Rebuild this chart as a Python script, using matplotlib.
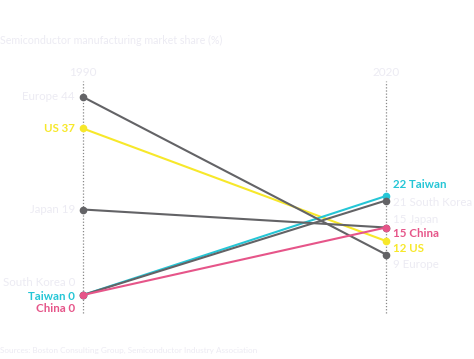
import matplotlib
matplotlib.use("Agg")
import matplotlib.pyplot as plt

years = [1990, 2020]
countries = ["Europe", "US", "Japan", "South Korea", "Taiwan", "China"]
share_1990 = [44, 37, 19, 0, 0, 0]
share_2020 = [9, 12, 15, 21, 22, 15]
colors = ["#636366", "#f7e82a", "#636366", "#636366", "#25c6d6", "#e65589"]
highlight = [False, True, False, False, True, True]
# label offsets in pixels (left, right)
left_off = [0, 0, 0, 12, -1, -14]
right_off = [-10, -7, 8, -2, 12, -6]

LIGHT = "#ecebf3"
plt.rcParams['font.family'] = ['Lato', 'DejaVu Sans']

fig = plt.figure(figsize=(4.74, 3.59), dpi=100)
ax = fig.add_axes([0, 0, 1, 1])
ax.set_xlim(1990 - 83 * 30 / 303, 1990 + (474 - 83) * 30 / 303)
ax.set_ylim((295 - 359) / 4.5, 295 / 4.5)
ax.axis('off')

for yr in years:
    ax.plot([yr, yr], [-4, 47.5], color="#888888", lw=0.9, ls=(0, (1, 1.5)), zorder=1)
    ax.text(yr, 49.5, str(yr), ha='center', va='center', color=LIGHT, fontsize=8.5)

order = [1, 4, 0, 2, 3, 5]
for i in order:
    ax.plot(years, [share_1990[i], share_2020[i]], color=colors[i], lw=1.5,
            marker='o', ms=4.5, zorder=3)

for i, c in enumerate(countries):
    col = colors[i] if highlight[i] else LIGHT
    wt = 'bold' if highlight[i] else 'normal'
    ax.annotate(f"{c} {share_1990[i]}", (years[0], share_1990[i]),
                xytext=(-8, left_off[i]), textcoords='offset pixels',
                ha='right', va='center', color=col, fontsize=8.3, fontweight=wt)
    ax.annotate(f"{share_2020[i]} {c}", (years[1], share_2020[i]),
                xytext=(7, right_off[i]), textcoords='offset pixels',
                ha='left', va='center', color=col, fontsize=8.3, fontweight=wt)

fig.text(0.0, 1 - 40 / 359, "Semiconductor manufacturing market share (%)",
         ha='left', va='center', color=LIGHT, fontsize=7.7)
fig.text(0.0, 1 - 350 / 359, "Sources: Boston Consulting Group, Semiconductor Industry Association",
         ha='left', va='center', color=LIGHT, fontsize=5.9)

fig.savefig("out.png", dpi=100, facecolor="white")
